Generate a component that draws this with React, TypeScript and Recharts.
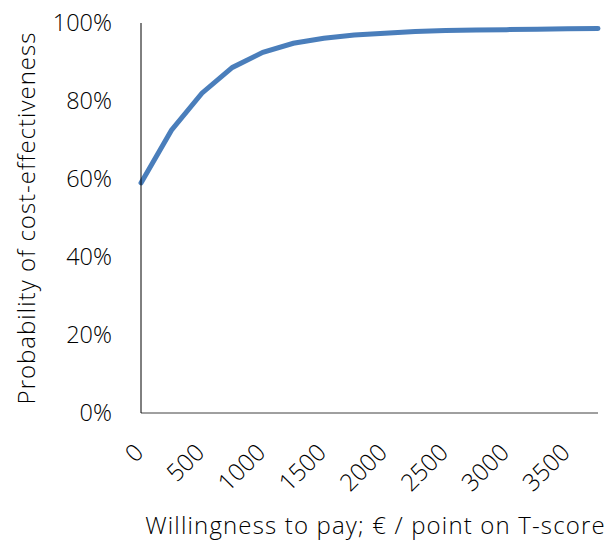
import React from 'react';
import { LineChart, Line, XAxis, YAxis, Label } from 'recharts';

const wtpLevels = [0, 250, 500, 750, 1000, 1250, 1500, 1750, 2000, 2250, 2500, 2750, 3000, 3250, 3500, 3750];
const probCE = [59, 72.5, 82, 88.6, 92.5, 94.8, 96.1, 96.9, 97.4, 97.8, 98.1, 98.2, 98.3, 98.4, 98.5, 98.6];
const yTicks = [0, 20, 40, 60, 80, 100];

const FONT = '"Open Sans", sans-serif';

const chartData = wtpLevels.map((wtp, i) => ({ wtp, prob: probCE[i] }));

// rotated x labels, end of text sits just right of the tick
const RotatedTick = ({ x, y, payload }: any) => (
  <text
    x={x + 4}
    y={y + 33}
    transform={`rotate(-45, ${x + 4}, ${y + 33})`}
    textAnchor="end"
    fontFamily={FONT}
    fontWeight={300}
    fontSize={24}
    fill="#000"
  >
    {payload.value}
  </text>
);

const App: React.FC = () => {
  return (
    <div style={{ position: 'absolute', left: 0, top: 0, width: 611, height: 544, background: '#fff' }}>
      <LineChart width={611} height={544} data={chartData} margin={{ top: 23, right: 13, left: 0, bottom: 0 }}>
        <XAxis
          dataKey="wtp"
          interval={1}
          tick={<RotatedTick />}
          tickLine={false}
          axisLine={{ stroke: '#404040', strokeWidth: 1 }}
          height={131}
        >
          <Label
            value="Willingness to pay; € / point on T-score"
            position="insideBottom"
            offset={10}
            dx={6}
            style={{ fontFamily: FONT, fontWeight: 300, fontSize: 24, letterSpacing: 1.15, fill: '#000' }}
          />
        </XAxis>
        <YAxis
          domain={[0, 100]}
          ticks={yTicks}
          tickFormatter={(v: number) => `${v}%`}
          tickLine={false}
          tickMargin={23}
          axisLine={{ stroke: '#000', strokeWidth: 1 }}
          width={141}
          tick={{ fontFamily: FONT, fontWeight: 300, fontSize: 23.5, fill: '#000' }}
        >
          <Label
            value="Probability of cost-effectiveness"
            angle={-90}
            position="insideLeft"
            offset={26}
            style={{ textAnchor: 'middle', fontFamily: FONT, fontWeight: 300, fontSize: 24, letterSpacing: 1, fill: '#000' }}
          />
        </YAxis>
        <Line
          type="linear"
          dataKey="prob"
          stroke="#4a7ebb"
          strokeWidth={5}
          dot={false}
          strokeLinecap="round"
          isAnimationActive={false}
        />
      </LineChart>
    </div>
  );
};

export default App;
